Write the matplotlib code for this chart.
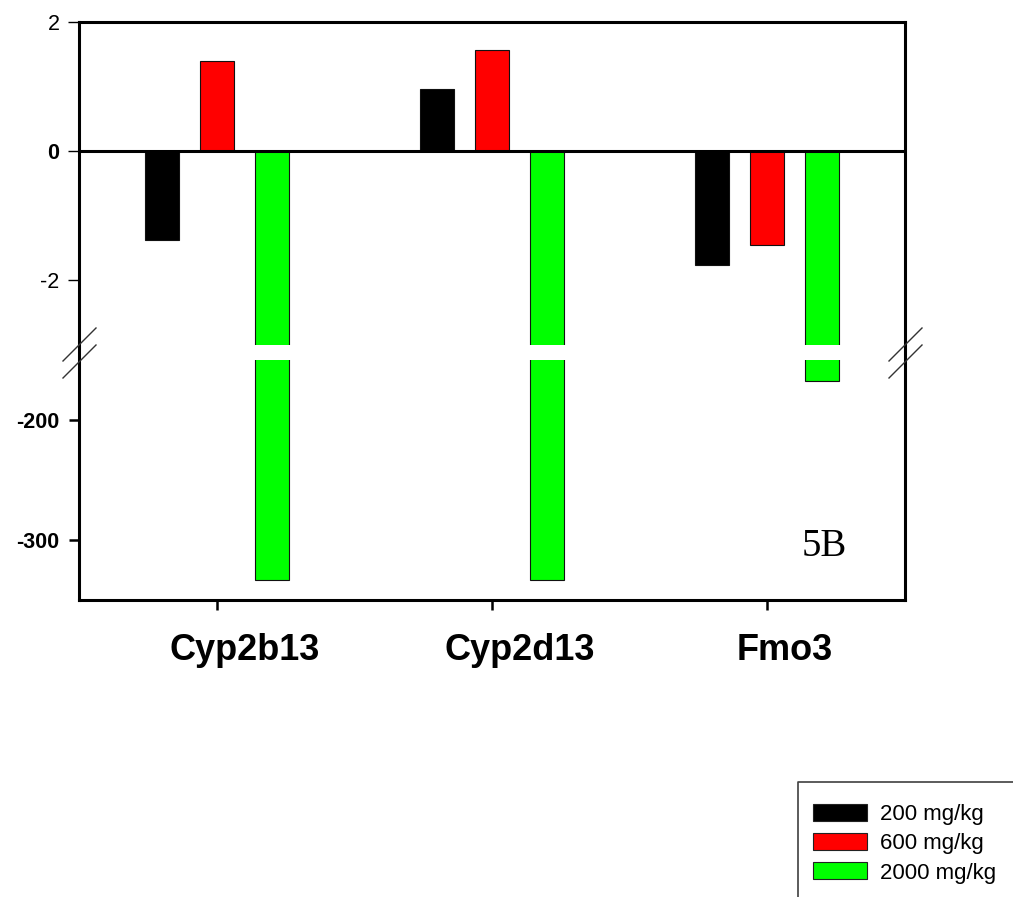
import matplotlib
matplotlib.use("Agg")
import matplotlib.pyplot as plt
import numpy as np
from matplotlib.patches import Patch
from matplotlib.lines import Line2D
from matplotlib.transforms import ScaledTranslation

genes = ["Cyp2b13", "Cyp2d13", "Fmo3"]
doses = ["200 mg/kg", "600 mg/kg", "2000 mg/kg"]
v200 = [-1.37, 0.97, -1.76]
v600 = [1.40, 1.57, -1.45]
v2000 = [-333.0, -333.0, -167.5]
colors = ["#000000", "#FF0000", "#00FF00"]
top_ticks = [2, 0, -2]
bottom_ticks = [-200, -300]

W, H = 1013, 897
fig = plt.figure(figsize=(W / 100, H / 100), dpi=100)
plt.rcParams['font.family'] = ['Liberation Sans', 'DejaVu Sans']

def fx(px):
    return px / W

def fy(py):
    return 1 - py / H

L, R = 79, 905
ax_top = fig.add_axes([fx(L), fy(345), fx(R) - fx(L), (345 - 22) / H])
ax_bot = fig.add_axes([fx(L), fy(600), fx(R) - fx(L), (600 - 360) / H])

x = np.arange(len(genes))
offs = [-0.2, 0.0, 0.2]
width = 0.124
series = [v200, v600, v2000]
for ax in (ax_top, ax_bot):
    for s, vals in enumerate(series):
        ax.bar(x + offs[s], vals, width=width, color=colors[s],
               edgecolor="#111111", linewidth=0.8, zorder=2)
    ax.set_xlim(-0.5, 2.5)
    for sp in ax.spines.values():
        sp.set_visible(False)

ax_top.set_ylim(-3.0, 2.0)
ax_bot.set_ylim(-350, -150)

ax_top.axhline(0, color="black", lw=2.2, zorder=3)
ax_top.spines["top"].set_visible(True)
ax_top.spines["top"].set_linewidth(2.2)
ax_bot.spines["bottom"].set_visible(True)
ax_bot.spines["bottom"].set_linewidth(2.2)

ax_top.set_xticks([])
ax_top.set_yticks(top_ticks)
ax_top.set_yticklabels([str(t) for t in top_ticks], fontsize=15.5)
for lab in ax_top.get_yticklabels():
    if lab.get_text() == "0":
        lab.set_fontweight("bold")
ax_top.tick_params(axis="y", direction="out", length=8, width=1, pad=6)

ax_bot.set_yticks(bottom_ticks)
ax_bot.set_yticklabels([str(t) for t in bottom_ticks], fontsize=15.5, fontweight="bold")
ax_bot.tick_params(axis="y", direction="out", length=7, width=1.8, pad=7)
ax_bot.set_xticks(x)
ax_bot.set_xticklabels(genes, fontsize=26, fontweight="bold")
ax_bot.tick_params(axis="x", direction="out", length=7, width=1.8, pad=17)
# labels sit a little right of their ticks in the original
label_shift_px = [28, 28, 17]
for lab, sh in zip(ax_bot.get_xticklabels(), label_shift_px):
    lab.set_transform(lab.get_transform() + ScaledTranslation(sh / 100, 0, fig.dpi_scale_trans))

# continuous left and right spines
for px in (L, R):
    fig.add_artist(Line2D([fx(px), fx(px)], [fy(22), fy(600)], color="black", lw=2.2,
                          transform=fig.transFigure, solid_capstyle="projecting"))

# break marks
for px0 in (L, R):
    for dy in (0, 17):
        fig.add_artist(Line2D([fx(px0 - 16), fx(px0 + 17)],
                              [fy(361 + dy), fy(328 + dy)],
                              color="#333333", lw=1.0, transform=fig.transFigure))

fig.text(fx(802), fy(556), "5B", fontsize=28, family=["Liberation Serif"],
         va="baseline", ha="left")

handles = [Patch(facecolor=c, edgecolor="#222222", linewidth=0.8) for c in colors]
fig.legend(handles, doses, loc="upper left", bbox_to_anchor=(fx(813), fy(804)),
           frameon=False, fontsize=16, handlelength=2.45, handleheight=0.8,
           handletextpad=0.55, labelspacing=0.36, borderpad=0, borderaxespad=0)
fig.add_artist(Line2D([fx(798), fx(798), fx(1013)], [fy(897), fy(782), fy(782)],
                      color="#404040", lw=1.2, transform=fig.transFigure))

fig.savefig("out.png", dpi=100, facecolor="white")
